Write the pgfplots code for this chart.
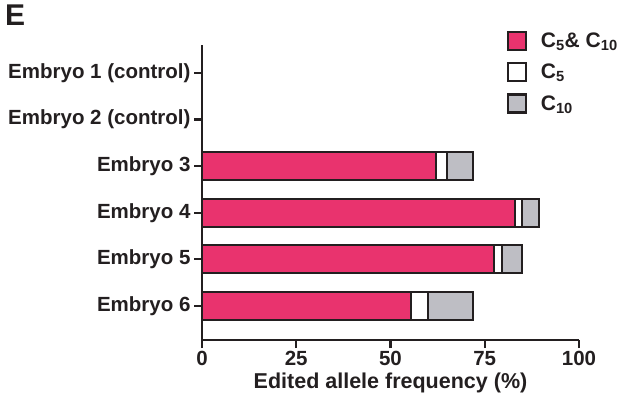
\documentclass[border=0pt]{standalone}
\usepackage{pgfplots}
\pgfplotsset{compat=1.18}
\usepackage{fontspec}
\setmainfont{Liberation Sans}
\definecolor{mag}{RGB}{233,51,110}
\definecolor{gry}{RGB}{190,190,196}
\definecolor{ink}{RGB}{35,31,32}
\begin{document}
\begin{tikzpicture}[x=1pt,y=1pt]
\useasboundingbox (0,0) rectangle (632,407);
\node[anchor=north west, inner sep=0pt, font=\fontsize{30}{32}\selectfont\bfseries, text=ink] at (5,402) {E};
\begin{axis}[
  at={(202pt,67pt)}, anchor=south west,
  scale only axis, width=377pt, height=295pt,
  xbar stacked, bar width=28pt,
  xmin=0, xmax=100, ymin=0.4, ymax=6.73,
  y dir=reverse,
  axis lines=left, axis line style={-, line width=2.4pt, ink},
  xtick={0,25,50,75,100}, ytick={1,2,3,4,5,6},
  yticklabels={Embryo 1 (control),Embryo 2 (control),Embryo 3,Embryo 4,Embryo 5,Embryo 6},
  tick align=outside, major tick length=8pt,
  tick style={line width=2.2pt, ink},
  /pgf/number format/assume math mode=true,
  ticklabel style={font=\fontsize{20.5}{22}\selectfont\bfseries, text=ink},
  xlabel={Edited allele frequency (\%)},
  xlabel style={font=\fontsize{21.5}{23}\selectfont\bfseries, text=ink},
  legend style={at={(0.80,1.055)}, anchor=north west, draw=none, fill=none,
    font=\fontsize{21}{23}\selectfont\bfseries, text=ink, row sep=11pt,
    legend cell align=left},
  legend image code/.code={\draw[#1, line width=2.2pt, draw=ink] (0pt,-9pt) rectangle (18pt,9pt); \path (30pt,0pt);},
  clip=false,
]
\addplot[fill=mag, draw=ink, line width=2pt] coordinates {(62,3) (83,4) (77.5,5) (55.5,6)};
\addplot[fill=white, draw=ink, line width=2pt] coordinates {(3,3) (2,4) (2,5) (4.5,6)};
\addplot[fill=gry, draw=ink, line width=2pt] coordinates {(7,3) (4.5,4) (5.5,5) (12,6)};
\legend{C\textsubscript{5}\& C\textsubscript{10}, C\textsubscript{5}, C\textsubscript{10}}
\end{axis}
\end{tikzpicture}
\end{document}
